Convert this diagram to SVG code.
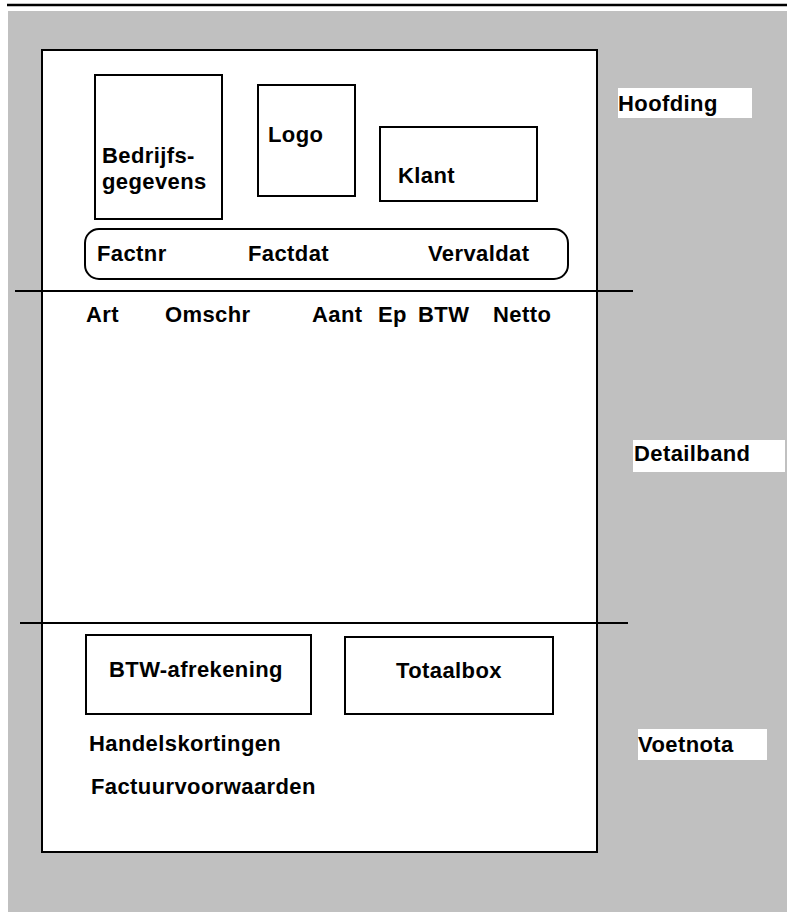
<svg xmlns="http://www.w3.org/2000/svg" width="787" height="912" viewBox="0 0 787 912">
<style>
  .bx { fill: none; stroke: #000; stroke-width: 2; }
  .t { font-family: "Liberation Sans", Arial, sans-serif; font-weight: bold; font-size: 22px; letter-spacing: 0.4px; fill: #000; }
  .ln { stroke: #000; stroke-width: 2; }
  .lbl { fill: #fff; stroke: none; }
</style>
<rect x="0" y="0" width="787" height="912" fill="#fff"/>
<line x1="7" y1="5" x2="787" y2="5" stroke="#000" stroke-width="2.5"/>
<rect x="8" y="11" width="779" height="901" fill="#c0c0c0"/>
<g id="page">
  <rect x="42" y="50" width="555" height="802" fill="#fff" stroke="#000" stroke-width="2"/>
</g>
<g id="bedrijfsgegevens">
  <rect class="bx" x="95" y="75" width="127" height="144"/>
  <text class="t" x="102" y="163">Bedrijfs-</text>
  <text class="t" x="102" y="189">gegevens</text>
</g>
<g id="logo">
  <rect class="bx" x="258" y="85" width="97" height="111"/>
  <text class="t" x="268" y="142">Logo</text>
</g>
<g id="klant">
  <rect class="bx" x="380" y="127" width="157" height="74"/>
  <text class="t" x="398" y="183">Klant</text>
</g>
<g id="factuurgegevens">
  <rect class="bx" x="85" y="229" width="483" height="50" rx="14" ry="14"/>
  <text class="t" x="97" y="261">Factnr</text>
  <text class="t" x="248" y="261">Factdat</text>
  <text class="t" x="428" y="261">Vervaldat</text>
</g>
<g id="connectors">
  <line class="ln" x1="15" y1="291" x2="633" y2="291"/>
  <line class="ln" x1="20" y1="623" x2="628" y2="623"/>
</g>
<g id="kolommen">
  <text class="t" x="86" y="322">Art</text>
  <text class="t" x="165" y="322">Omschr</text>
  <text class="t" x="312" y="322">Aant</text>
  <text class="t" x="378" y="322">Ep</text>
  <text class="t" x="418" y="322">BTW</text>
  <text class="t" x="493" y="322">Netto</text>
</g>
<g id="btw-afrekening">
  <rect class="bx" x="86" y="635" width="225" height="79"/>
  <text class="t" x="109" y="677">BTW-afrekening</text>
</g>
<g id="totaalbox">
  <rect class="bx" x="345" y="637" width="208" height="77"/>
  <text class="t" x="396" y="678">Totaalbox</text>
</g>
<g id="handelskortingen">
  <text class="t" x="89" y="751">Handelskortingen</text>
</g>
<g id="factuurvoorwaarden">
  <text class="t" x="91" y="794">Factuurvoorwaarden</text>
</g>
<g id="hoofding">
  <rect class="lbl" x="618" y="88" width="134" height="30"/>
  <text class="t" x="618" y="111">Hoofding</text>
</g>
<g id="detailband">
  <rect class="lbl" x="633" y="440" width="152" height="32"/>
  <text class="t" x="634" y="461">Detailband</text>
</g>
<g id="voetnota">
  <rect class="lbl" x="638" y="729" width="129" height="31"/>
  <text class="t" x="638" y="752">Voetnota</text>
</g>
</svg>
